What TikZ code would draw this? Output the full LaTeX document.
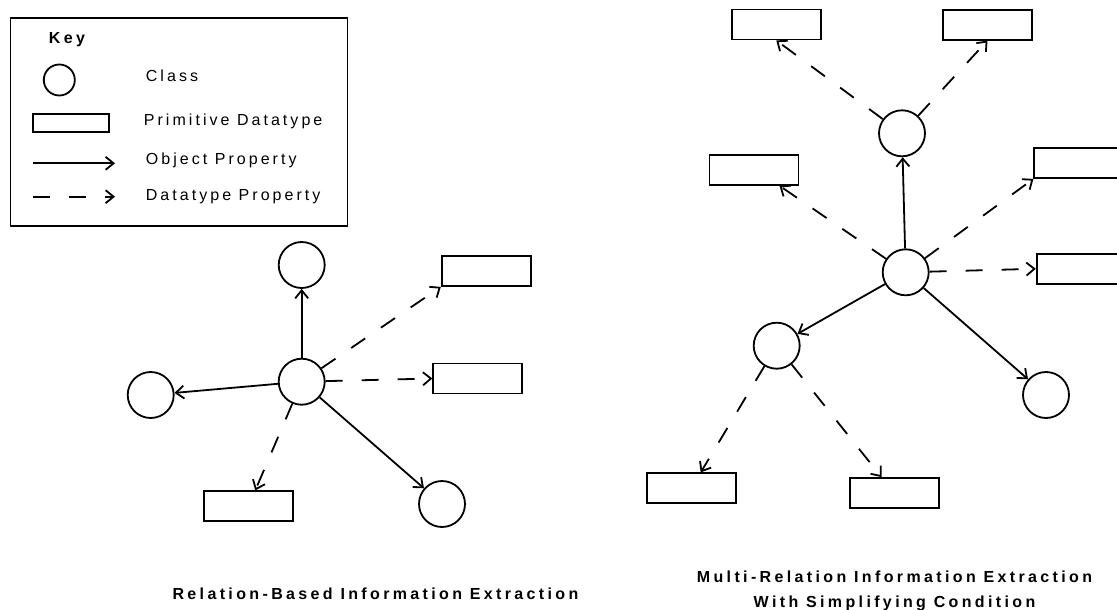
\documentclass[tikz,border=0pt]{standalone}
\usepackage{fontspec}
\setmainfont{Liberation Sans}
\newfontfamily\keyfont[LetterSpace=19]{Liberation Sans}
\newfontfamily\titlefont[LetterSpace=21]{Liberation Sans Bold}
\usetikzlibrary{arrows.meta,calc}
\begin{document}
\begin{tikzpicture}[x=1pt,y=-1pt,
  line width=1.8pt,
  cls/.style={draw,circle,minimum size=46pt,inner sep=0pt},
  prim/.style={draw,rectangle,minimum width=89pt,minimum height=30pt,inner sep=0pt},
  objp/.style={-{Straight Barb[length=8pt,width=13pt]}},
  datp/.style={-{Straight Barb[length=8pt,width=13pt]},dash pattern=on 17pt off 19pt},
  keytxt/.style={anchor=mid west,inner sep=0pt,font=\fontsize{16}{19}\keyfont},
  ttl/.style={inner sep=0pt,align=center,font=\fontsize{16}{25}\titlefont}]
\useasboundingbox (0,0) rectangle (1117,610);
% Key
\node[draw,rectangle,minimum width=337pt,minimum height=208pt,inner sep=0pt,anchor=north west] (keybox) at (9.5,17) {};
\node[keytxt,font=\fontsize{16}{19}\titlefont] (keyh) at (48,41) {Key};
\node[cls,minimum size=31pt] (kc) at (59.3,80) {};
\node[keytxt] (kct) at (145,79) {Class};
\node[draw,rectangle,minimum width=76pt,minimum height=18pt,inner sep=0pt] (kr) at (71.2,123.3) {};
\node[keytxt] (krt) at (143,123) {Primitive Datatype};
\coordinate (ko1) at (33,163.3);
\coordinate (ko2) at (115,163.3);
\draw[objp] (ko1) -- (ko2);
\node[keytxt] (kot) at (145,161.5) {Object Property};
\coordinate (kd1) at (33,196.7);
\coordinate (kd2) at (115,196.7);
\draw[datp] (kd1) -- (kd2);
\node[keytxt] (kdt) at (145,197.5) {Datatype Property};
% Left diagram
\node[cls] (C) at (301.7,381.7) {};
\node[cls] (T) at (301.7,265) {};
\node[cls] (L) at (150.7,395) {};
\node[cls] (BR) at (442,504) {};
\node[prim] (R1) at (486.2,271) {};
\node[prim] (R2) at (477.8,378.5) {};
\node[prim] (R3) at (248.5,506.3) {};
\draw[objp] (C) -- (T);
\draw[objp] (C) -- (L);
\draw[objp] (C) -- (BR);
\draw[datp] (C) -- (R1.south west);
\draw[datp] (C) -- (R2.west);
\draw[datp] (C) -- (R3);
\node[ttl] (t1) at (375.5,594) {Relation-Based Information Extraction};
% Right diagram
\node[cls] (M) at (905.7,272.3) {};
\node[cls] (U) at (902,133.3) {};
\node[cls] (N) at (776.7,345.7) {};
\node[cls] (Q) at (1046,395) {};
\node[prim] (A) at (776.3,24.5) {};
\node[prim] (B) at (987.5,24.7) {};
\node[prim] (D) at (754,169.8) {};
\node[prim] (E) at (1078.8,163) {};
\node[prim] (F) at (1081.2,268.8) {};
\node[prim] (G) at (691.2,488.3) {};
\node[prim] (H) at (894.2,493) {};
\draw[objp] (M) -- (U);
\draw[objp] (M) -- (N);
\draw[objp] (M) -- (Q);
\draw[datp] (U) -- (A.south);
\draw[datp] (U) -- (B.south);
\draw[datp] (M) -- ($(D.south west)!0.78!(D.south east)$);
\draw[datp] (M) -- (E.south west);
\draw[datp] (M) -- (F.west);
\draw[datp] (N) -- (G);
\draw[datp] (N) -- (H);
\node[ttl] (t2) at (894.5,591) {Multi-Relation Information Extraction\\With Simplifying Condition};
\end{tikzpicture}
\end{document}
